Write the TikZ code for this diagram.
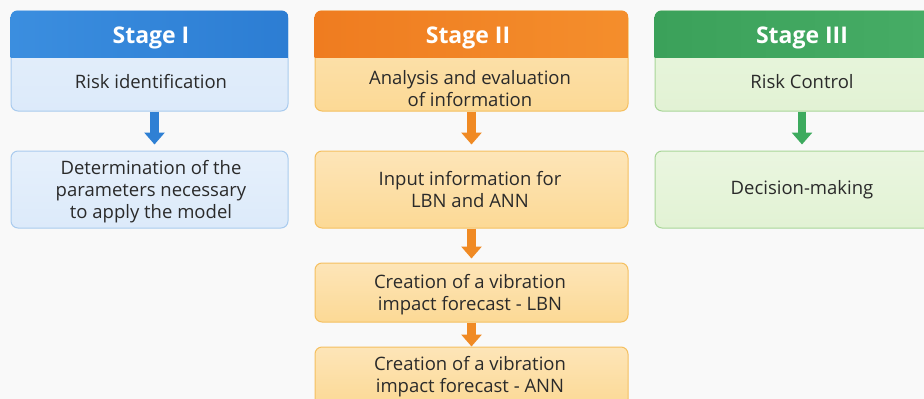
\documentclass[tikz,border=0pt]{standalone}
\usepackage{fontspec}
\setmainfont{Open Sans}
\usetikzlibrary{arrows.meta}
\definecolor{bgc}{HTML}{F9F9F9}
\definecolor{bluehd}{HTML}{2C7DD3}
\definecolor{bluehdl}{HTML}{3B8EDF}
\definecolor{bluebd}{HTML}{DCEAFA}
\definecolor{bluebdl}{HTML}{E6F0FB}
\definecolor{bluebr}{HTML}{A9CBEE}
\definecolor{bluear}{HTML}{2F80D4}
\definecolor{orghd}{HTML}{EF7C20}
\definecolor{orghdl}{HTML}{F48E2C}
\definecolor{orgbd}{HTML}{FCD995}
\definecolor{orgbdl}{HTML}{FDE5B8}
\definecolor{orgbr}{HTML}{F5C060}
\definecolor{orgar}{HTML}{F08A24}
\definecolor{grnhd}{HTML}{3BA15A}
\definecolor{grnhdl}{HTML}{47AD66}
\definecolor{grnbd}{HTML}{E2F2D4}
\definecolor{grnbdl}{HTML}{EAF6E0}
\definecolor{grnbr}{HTML}{A8D698}
\definecolor{grnar}{HTML}{3DAA5E}
\definecolor{txt}{HTML}{2A2A2A}
\tikzset{
  box/.style={rectangle, rounded corners=7pt, line width=1pt, inner sep=0pt},
  hdtext/.style={text=white, font=\fontsize{23}{27}\selectfont\bfseries},
  bdtext/.style={text=txt, font=\fontsize{18.5}{22}\selectfont, align=center},
  flow/.style={line width=8.5pt, -{Triangle[width=20pt,length=12pt]}},
}
\begin{document}
\begin{tikzpicture}[x=1pt,y=-1pt]
\useasboundingbox (0,0) rectangle (924,399);
\clip (0,0) rectangle (924,399);
\fill[bgc] (0,0) rectangle (924,399);

% ---------- Stage I ----------
\node[box, draw=bluebr, top color=bluebdl, bottom color=bluebd, minimum width=277pt, minimum height=100pt] (s1) at (149.5,61) {};
\begin{scope}
\clip[rounded corners=7pt] (s1.north west) rectangle (s1.south east);
\shade[left color=bluehdl, right color=bluehd] (s1.north west) rectangle ([yshift=-47pt]s1.north east);
\end{scope}
\node[hdtext] (h1) at (151,37.5) {Stage I};
\node[bdtext] (t1) at (151,82) {Risk identification};
\node[box, draw=bluebr, top color=bluebdl, bottom color=bluebd, minimum width=277pt, minimum height=77pt] (b1) at (149.5,189.5) {};
\node[bdtext] (u1) at (151,192) {Determination of the\\parameters necessary\\to apply the model};
\draw[flow, bluear, shorten >=6pt] ([xshift=5pt]s1.south) -- ([xshift=5pt]b1.north);

% ---------- Stage II ----------
\node[box, draw=orgbr, top color=orgbdl, bottom color=orgbd, minimum width=313pt, minimum height=100pt] (s2) at (471.5,61) {};
\begin{scope}
\clip[rounded corners=7pt] (s2.north west) rectangle (s2.south east);
\shade[left color=orghd, right color=orghdl] (s2.north west) rectangle ([yshift=-47pt]s2.north east);
\end{scope}
\node[hdtext] (h2) at (468,37.5) {Stage II};
\node[bdtext] (t2) at (470,89) {Analysis and evaluation\\of information};
\node[box, draw=orgbr, top color=orgbdl, bottom color=orgbd, minimum width=313pt, minimum height=77pt] (b2) at (471.5,189.5) {};
\node[bdtext] (u2) at (470,189.5) {Input information for\\LBN and ANN};
\node[box, draw=orgbr, top color=orgbdl, bottom color=orgbd, minimum width=313pt, minimum height=59pt] (b3) at (471.5,292.5) {};
\node[bdtext] (u3) at (470,294.5) {Creation of a vibration\\impact forecast - LBN};
\node[box, draw=orgbr, top color=orgbdl, bottom color=orgbd, minimum width=313pt, minimum height=59pt] (b4) at (471.5,376.5) {};
\node[bdtext] (u4) at (470,376.5) {Creation of a vibration\\impact forecast - ANN};
\draw[flow, orgar, shorten >=6pt] (s2.south) -- (b2.north);
\draw[flow, orgar, shorten >=4pt] (b2.south) -- (b3.north);
\draw[flow, orgar, shorten >=0pt] (b3.south) -- (b4.north);

% ---------- Stage III ----------
\node[box, draw=grnbr, top color=grnbdl, bottom color=grnbd, minimum width=294pt, minimum height=100pt] (s3) at (802,61) {};
\begin{scope}
\clip[rounded corners=7pt] (s3.north west) rectangle (s3.south east);
\shade[left color=grnhd, right color=grnhdl] (s3.north west) rectangle ([yshift=-47pt]s3.north east);
\end{scope}
\node[hdtext] (h3) at (802,37.5) {Stage III};
\node[bdtext] (t3) at (802,81.5) {Risk Control};
\node[box, draw=grnbr, top color=grnbdl, bottom color=grnbd, minimum width=294pt, minimum height=77pt] (b5) at (802,189.5) {};
\node[bdtext] (u5) at (802,190) {Decision-making};
\draw[flow, grnar, shorten >=6pt] (s3.south) -- (b5.north);
\end{tikzpicture}
\end{document}
